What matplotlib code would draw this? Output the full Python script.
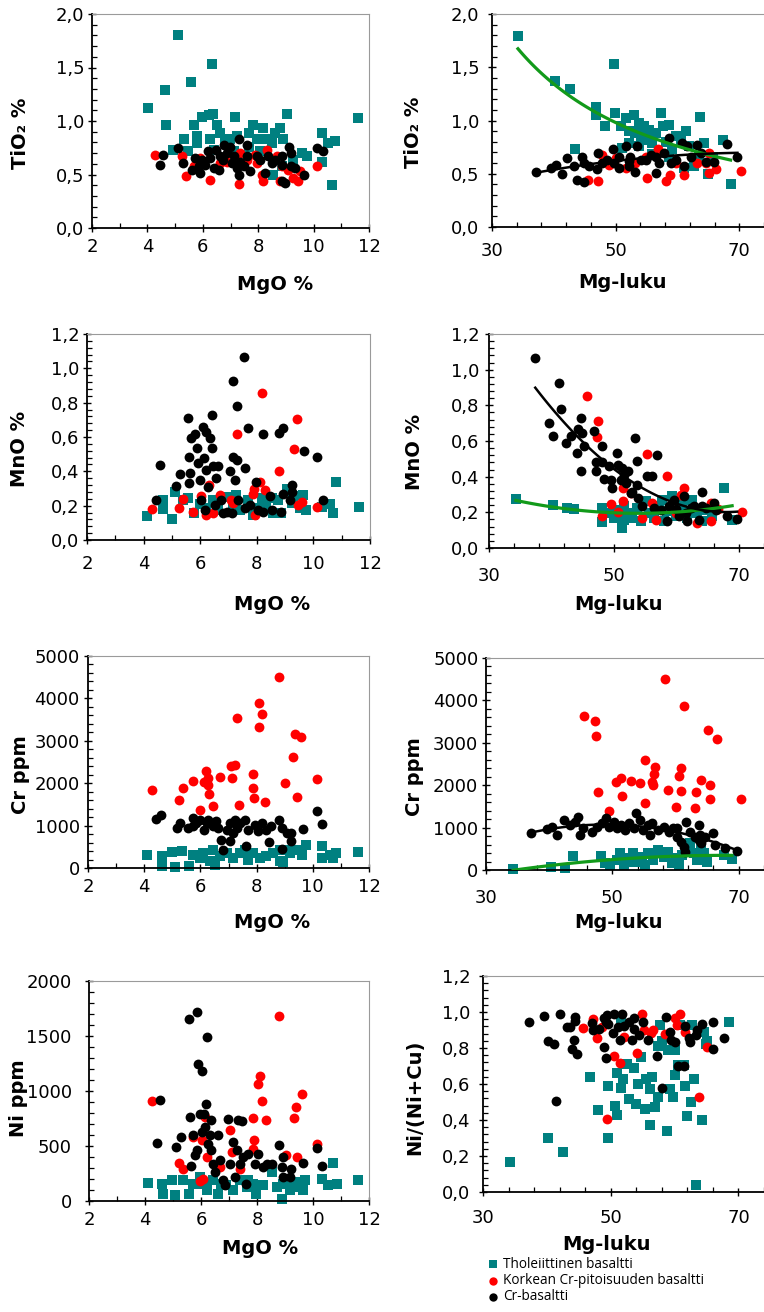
import numpy as np
import matplotlib
matplotlib.use('Agg')
import matplotlib.pyplot as plt
from matplotlib.ticker import FixedLocator, MultipleLocator, FuncFormatter

# --- TiO2 vs MgO ---
tio2_mgo_thol_x = [4.02, 4.62, 5.09, 5.58, 6.33, 4.66, 4.94, 5.33, 5.46, 5.67, 5.79, 5.79, 5.97, 6.24, 6.36, 6.27, 6.51, 6.63, 6.81, 6.99, 7.17, 7.23, 7.65, 7.81, 7.95, 8.19, 8.31, 8.49, 8.61, 8.79, 8.91, 9.03, 7.65, 8.07, 8.55, 9.27, 9.57, 9.75, 10.29, 10.29, 10.53, 10.77, 10.65, 11.62, 8.85, 7.11, 6.39]
tio2_mgo_thol_y = [1.12, 1.29, 1.80, 1.36, 1.53, 0.96, 0.73, 0.83, 0.72, 0.96, 0.86, 0.79, 1.04, 1.06, 1.07, 0.83, 0.96, 0.89, 0.83, 0.83, 1.04, 0.86, 0.89, 0.96, 0.83, 0.93, 0.83, 0.79, 0.89, 0.93, 0.83, 1.07, 0.76, 0.72, 0.50, 0.64, 0.70, 0.67, 0.89, 0.62, 0.79, 0.81, 0.40, 1.03, 0.58, 0.72, 0.73]
tio2_mgo_hcr_x = [4.26, 5.25, 5.39, 6.27, 6.63, 7.35, 7.32, 7.89, 7.95, 8.13, 8.19, 8.31, 8.79, 8.85, 9.27, 9.45, 9.51, 10.11, 6.87, 5.91, 7.59, 5.67, 8.67, 9.09]
tio2_mgo_hcr_y = [0.685, 0.67, 0.49, 0.45, 0.61, 0.70, 0.41, 0.685, 0.61, 0.50, 0.44, 0.73, 0.44, 0.58, 0.47, 0.44, 0.53, 0.58, 0.62, 0.655, 0.64, 0.58, 0.67, 0.545]
tio2_mgo_cr_x = [4.56, 4.46, 5.12, 5.28, 5.61, 5.73, 5.85, 5.97, 6.09, 6.17, 6.27, 6.39, 6.48, 6.63, 6.72, 6.75, 6.87, 6.99, 7.05, 7.11, 7.23, 7.29, 7.29, 7.47, 7.59, 7.59, 7.71, 7.95, 8.07, 8.25, 8.37, 8.49, 8.61, 8.85, 8.85, 8.85, 8.97, 9.12, 9.20, 9.20, 9.33, 9.65, 10.11, 10.33, 5.91, 6.57, 7.35]
tio2_mgo_cr_y = [0.685, 0.59, 0.75, 0.61, 0.545, 0.655, 0.575, 0.64, 0.59, 0.72, 0.655, 0.56, 0.73, 0.67, 0.64, 0.78, 0.70, 0.76, 0.61, 0.67, 0.56, 0.83, 0.50, 0.58, 0.67, 0.78, 0.53, 0.67, 0.64, 0.51, 0.67, 0.61, 0.64, 0.67, 0.59, 0.44, 0.42, 0.76, 0.70, 0.58, 0.56, 0.50, 0.75, 0.72, 0.51, 0.545, 0.62]

# --- TiO2 vs Mg-luku ---
tio2_mgl_thol_x = [34.2, 40.2, 42.6, 43.5, 46.8, 46.8, 48.3, 49.7, 49.9, 50.8, 51.1, 51.7, 52.2, 53.0, 53.2, 53.8, 54.1, 54.6, 54.9, 55.4, 55.9, 56.5, 57.3, 57.6, 58.1, 58.6, 59.1, 59.7, 60.5, 61.4, 61.9, 62.7, 63.5, 63.7, 64.3, 64.9, 65.7, 67.4, 68.6, 55.9, 53.8, 58.6, 61.1, 52.2]
tio2_mgl_thol_y = [1.79, 1.37, 1.30, 0.73, 1.13, 1.05, 0.95, 1.53, 1.07, 0.945, 0.74, 1.02, 0.90, 1.05, 0.88, 0.98, 0.85, 0.945, 0.82, 0.91, 0.79, 0.88, 1.07, 0.945, 0.80, 0.96, 0.73, 0.85, 0.82, 0.90, 0.76, 0.57, 0.66, 1.03, 0.79, 0.50, 0.66, 0.82, 0.40, 0.69, 0.76, 0.66, 0.55, 0.79]
tio2_mgl_hcr_x = [45.6, 47.2, 47.8, 55.1, 56.8, 58.1, 58.8, 61.1, 65.1, 66.3, 70.3, 51.6, 54.9, 63.2, 64.6, 59.7, 53.2, 50.0, 48.9, 65.1]
tio2_mgl_hcr_y = [0.445, 0.43, 0.68, 0.46, 0.73, 0.43, 0.49, 0.49, 0.695, 0.54, 0.53, 0.55, 0.66, 0.60, 0.60, 0.60, 0.60, 0.65, 0.585, 0.51]
tio2_mgl_cr_x = [37.1, 39.5, 40.3, 41.4, 42.2, 43.2, 43.8, 44.6, 44.9, 44.9, 45.7, 47.0, 47.2, 47.8, 48.6, 49.5, 49.7, 50.5, 50.5, 51.6, 52.1, 52.4, 53.1, 53.5, 54.1, 54.9, 55.7, 56.6, 57.0, 57.8, 58.6, 58.9, 59.7, 60.7, 61.1, 61.6, 62.2, 63.2, 63.8, 64.6, 65.9, 68.0, 69.7, 56.5, 52.2]
tio2_mgl_cr_y = [0.515, 0.55, 0.58, 0.50, 0.65, 0.57, 0.445, 0.66, 0.42, 0.60, 0.57, 0.54, 0.695, 0.60, 0.63, 0.73, 0.60, 0.66, 0.55, 0.76, 0.62, 0.66, 0.52, 0.76, 0.63, 0.63, 0.68, 0.51, 0.60, 0.695, 0.835, 0.60, 0.63, 0.79, 0.57, 0.76, 0.66, 0.77, 0.695, 0.61, 0.615, 0.78, 0.66, 0.66, 0.57]

# --- MnO vs MgO ---
mno_mgo_thol_x = [4.13, 4.67, 4.69, 5.02, 5.10, 5.57, 5.77, 5.99, 6.46, 6.63, 6.93, 7.26, 7.40, 7.70, 7.87, 8.17, 8.34, 8.58, 8.76, 8.87, 9.05, 9.23, 9.52, 9.64, 9.74, 10.29, 10.58, 10.70, 10.80, 11.62, 5.40, 6.22, 7.17, 8.05, 8.52, 9.29]
mno_mgo_thol_y = [0.14, 0.235, 0.18, 0.12, 0.28, 0.245, 0.155, 0.21, 0.235, 0.175, 0.25, 0.26, 0.175, 0.235, 0.145, 0.245, 0.195, 0.155, 0.235, 0.155, 0.295, 0.215, 0.185, 0.265, 0.175, 0.195, 0.21, 0.16, 0.34, 0.195, 0.235, 0.185, 0.21, 0.185, 0.245, 0.255]
mno_mgo_hcr_x = [4.31, 5.25, 5.40, 5.75, 6.04, 6.22, 6.32, 6.46, 6.69, 7.17, 7.31, 7.90, 7.93, 8.11, 8.20, 8.29, 8.79, 9.31, 9.41, 9.46, 9.58, 10.14, 7.87, 7.09]
mno_mgo_hcr_y = [0.18, 0.185, 0.24, 0.165, 0.255, 0.145, 0.32, 0.155, 0.26, 0.215, 0.62, 0.30, 0.145, 0.34, 0.855, 0.29, 0.40, 0.53, 0.705, 0.205, 0.22, 0.195, 0.27, 0.235]
mno_mgo_cr_x = [4.45, 4.57, 5.14, 5.28, 5.57, 5.63, 5.69, 5.61, 5.61, 5.81, 5.89, 5.93, 5.99, 6.04, 6.10, 6.13, 6.16, 6.22, 6.22, 6.28, 6.34, 6.40, 6.43, 6.46, 6.52, 6.55, 6.63, 6.75, 6.81, 7.05, 7.17, 7.17, 7.23, 7.29, 7.29, 7.34, 7.58, 7.58, 7.55, 7.70, 7.97, 8.05, 8.23, 8.23, 8.46, 8.52, 8.79, 8.91, 8.87, 8.91, 9.23, 9.23, 9.17, 9.67, 10.14, 10.33, 6.93, 7.11, 7.76]
mno_mgo_cr_y = [0.235, 0.435, 0.315, 0.385, 0.71, 0.39, 0.595, 0.485, 0.33, 0.62, 0.535, 0.45, 0.35, 0.235, 0.66, 0.475, 0.175, 0.41, 0.63, 0.31, 0.595, 0.535, 0.73, 0.43, 0.205, 0.36, 0.43, 0.235, 0.155, 0.40, 0.485, 0.925, 0.35, 0.465, 0.78, 0.235, 0.42, 0.185, 1.065, 0.655, 0.335, 0.175, 0.615, 0.165, 0.255, 0.175, 0.625, 0.65, 0.165, 0.27, 0.32, 0.28, 0.235, 0.52, 0.485, 0.235, 0.165, 0.155, 0.205]

# --- MnO vs Mg-luku ---
mno_mgl_thol_x = [34.3, 40.2, 42.5, 43.6, 48.0, 48.1, 49.5, 50.0, 50.5, 51.2, 51.6, 52.1, 52.9, 53.7, 54.3, 55.1, 55.6, 56.4, 57.2, 58.0, 58.5, 59.3, 59.9, 60.9, 61.7, 62.5, 63.3, 64.1, 64.9, 65.7, 67.6, 68.9, 51.6, 57.7, 61.2]
mno_mgl_thol_y = [0.277, 0.243, 0.224, 0.22, 0.224, 0.144, 0.196, 0.168, 0.215, 0.112, 0.159, 0.196, 0.168, 0.224, 0.15, 0.262, 0.196, 0.168, 0.234, 0.15, 0.206, 0.29, 0.178, 0.243, 0.168, 0.271, 0.196, 0.15, 0.215, 0.178, 0.336, 0.159, 0.234, 0.271, 0.196]
mno_mgl_hcr_x = [45.7, 47.5, 47.3, 48.0, 49.5, 50.7, 51.4, 51.5, 54.5, 55.2, 56.7, 58.4, 59.9, 61.2, 60.7, 63.3, 65.5, 65.5, 66.7, 70.5, 56.1, 52.7]
mno_mgl_hcr_y = [0.854, 0.71, 0.622, 0.178, 0.249, 0.20, 0.262, 0.336, 0.168, 0.529, 0.159, 0.402, 0.196, 0.336, 0.299, 0.14, 0.15, 0.252, 0.22, 0.20, 0.252, 0.308]
mno_mgl_cr_x = [37.4, 39.6, 40.2, 41.2, 41.5, 42.3, 43.1, 44.1, 44.3, 44.7, 44.7, 44.9, 45.2, 46.8, 47.1, 47.1, 48.0, 48.0, 48.4, 49.2, 49.5, 49.7, 50.5, 50.7, 51.1, 51.6, 51.9, 52.3, 52.7, 52.9, 53.4, 53.7, 53.7, 53.9, 54.5, 55.3, 56.0, 56.8, 56.4, 57.5, 58.5, 58.8, 59.6, 60.4, 61.2, 61.5, 61.7, 62.3, 63.6, 64.0, 64.0, 64.7, 66.0, 66.3, 68.1, 69.7, 62.8, 59.9, 51.3]
mno_mgl_cr_y = [1.065, 0.70, 0.626, 0.925, 0.78, 0.589, 0.626, 0.533, 0.667, 0.729, 0.434, 0.645, 0.57, 0.654, 0.48, 0.43, 0.574, 0.48, 0.387, 0.458, 0.383, 0.336, 0.533, 0.467, 0.383, 0.411, 0.364, 0.43, 0.308, 0.312, 0.617, 0.486, 0.355, 0.28, 0.234, 0.402, 0.402, 0.523, 0.224, 0.215, 0.15, 0.234, 0.271, 0.178, 0.29, 0.196, 0.15, 0.224, 0.159, 0.312, 0.234, 0.224, 0.252, 0.215, 0.178, 0.164, 0.234, 0.219, 0.449]

# --- Cr vs MgO ---
cr_mgo_thol_x = [4.11, 4.65, 4.65, 5.00, 5.09, 5.36, 5.60, 5.74, 6.10, 6.45, 6.51, 6.69, 6.93, 7.17, 7.40, 7.70, 7.88, 8.12, 8.35, 8.59, 8.83, 8.83, 8.95, 9.19, 9.42, 9.60, 9.76, 10.31, 10.31, 10.61, 10.73, 10.82, 11.62, 5.98, 6.34, 7.58, 9.07]
cr_mgo_thol_y = [314, 290, 55, 369, 24, 392, 55, 314, 353, 432, 78, 275, 353, 235, 353, 196, 353, 235, 275, 353, 432, 157, 133, 353, 432, 314, 549, 235, 510, 314, 235, 353, 369, 235, 157, 432, 432]
cr_mgo_hcr_x = [4.29, 5.24, 5.38, 5.74, 5.98, 6.12, 6.19, 6.28, 6.28, 6.31, 6.45, 6.69, 7.08, 7.12, 7.23, 7.32, 7.38, 7.88, 7.88, 7.90, 8.09, 8.07, 8.19, 8.31, 8.78, 9.02, 9.30, 9.36, 9.57, 9.42, 10.14]
cr_mgo_hcr_y = [1845, 1609, 1884, 2041, 1374, 2017, 2276, 2119, 1962, 1750, 1452, 2158, 2394, 2119, 2433, 3532, 1491, 2221, 1884, 1648, 3885, 3320, 3634, 1546, 4513, 2002, 2614, 3163, 3100, 1672, 2096]
cr_mgo_cr_x = [4.43, 4.59, 5.15, 5.27, 5.56, 5.74, 5.86, 5.98, 6.12, 6.22, 6.28, 6.45, 6.55, 6.63, 6.75, 6.81, 6.93, 7.05, 7.17, 7.23, 7.29, 7.40, 7.58, 7.62, 7.70, 7.94, 8.06, 8.18, 8.35, 8.45, 8.53, 8.81, 8.89, 8.92, 9.07, 9.21, 9.24, 9.66, 10.14, 10.33, 7.05, 5.74]
cr_mgo_cr_y = [1154, 1256, 942, 1060, 942, 1177, 1060, 1138, 903, 1060, 1138, 981, 1099, 942, 667, 432, 903, 1060, 824, 1138, 942, 1060, 1138, 510, 903, 1020, 863, 1060, 903, 604, 981, 1122, 447, 942, 824, 628, 824, 918, 1334, 1044, 628, 981]

# --- Cr vs Mg-luku ---
cr_mgl_thol_x = [34.3, 40.3, 42.5, 43.7, 48.2, 48.8, 49.7, 50.7, 51.2, 51.8, 52.5, 53.2, 53.9, 54.7, 55.2, 55.7, 56.5, 57.3, 58.1, 58.8, 59.4, 60.0, 60.5, 61.0, 61.8, 62.3, 62.9, 63.4, 64.1, 64.5, 65.0, 67.6, 68.9, 53.4, 56.8, 64.2]
cr_mgl_thol_y = [20, 78, 39, 330, 330, 157, 118, 235, 392, 118, 275, 392, 196, 314, 118, 392, 235, 471, 314, 432, 157, 275, 118, 353, 471, 628, 392, 235, 549, 392, 196, 353, 251, 196, 392, 235]
cr_mgl_hcr_x = [45.5, 47.3, 47.4, 47.8, 49.4, 50.6, 51.4, 51.6, 53.0, 54.4, 55.2, 55.1, 56.8, 56.6, 56.3, 56.5, 58.4, 58.8, 60.0, 60.5, 60.9, 60.9, 61.3, 63.3, 63.1, 64.0, 65.1, 65.5, 65.5, 66.6, 70.4]
cr_mgl_hcr_y = [3634, 3516, 3163, 1845, 1397, 2080, 2159, 1750, 2104, 2041, 1586, 2606, 2433, 2261, 2080, 2002, 4505, 1884, 1491, 2213, 2410, 1868, 3862, 1845, 1452, 2119, 3297, 1994, 1664, 3093, 1664]
cr_mgl_cr_x = [37.2, 39.6, 40.4, 41.2, 42.3, 43.3, 44.1, 44.5, 44.9, 45.4, 46.8, 47.5, 48.3, 49.0, 49.4, 50.2, 50.7, 51.4, 52.0, 52.6, 53.4, 53.7, 54.4, 54.9, 55.7, 56.0, 56.3, 57.3, 58.1, 58.9, 59.6, 60.2, 60.8, 61.3, 61.5, 61.7, 62.3, 63.0, 63.7, 63.9, 64.1, 64.7, 66.0, 66.2, 67.9, 69.7, 63.7, 60.2]
cr_mgl_cr_y = [863, 958, 1005, 824, 1177, 1060, 1138, 1256, 824, 981, 903, 1020, 1099, 1217, 1020, 1138, 981, 1060, 942, 1099, 981, 1334, 1177, 942, 1060, 824, 1115, 942, 1020, 903, 981, 981, 667, 549, 432, 1138, 903, 785, 1060, 824, 628, 785, 863, 589, 510, 455, 706, 785]

# --- Ni vs MgO ---
ni_mgo_thol_x = [4.09, 4.62, 4.65, 4.98, 5.06, 5.36, 5.58, 5.72, 5.96, 6.20, 6.43, 6.61, 6.91, 7.15, 7.39, 7.63, 7.86, 7.98, 8.22, 8.52, 8.70, 8.88, 8.94, 9.18, 9.41, 9.63, 9.71, 10.31, 10.55, 10.70, 10.84, 11.62, 6.08, 6.73, 7.69, 9.29]
ni_mgo_thol_y = [164, 158, 67, 188, 52, 188, 61, 158, 219, 97, 188, 67, 143, 97, 188, 127, 158, 67, 143, 264, 127, 21, 158, 97, 173, 97, 188, 203, 143, 346, 158, 194, 158, 158, 188, 127]
ni_mgo_hcr_x = [4.26, 5.22, 5.36, 5.72, 5.96, 6.08, 6.05, 6.14, 6.20, 6.67, 7.03, 7.09, 7.39, 7.86, 7.89, 7.86, 8.04, 8.10, 8.19, 8.31, 8.77, 9.03, 9.32, 9.39, 9.42, 9.59, 10.15]
ni_mgo_hcr_y = [907, 346, 294, 583, 182, 203, 552, 765, 400, 310, 643, 446, 294, 756, 552, 476, 1068, 1135, 910, 734, 1681, 416, 756, 856, 400, 977, 522]
ni_mgo_cr_x = [4.43, 4.55, 5.12, 5.28, 5.58, 5.84, 5.60, 5.64, 5.72, 5.78, 5.86, 5.91, 6.02, 5.96, 6.02, 6.10, 6.17, 6.22, 6.14, 6.25, 6.31, 6.37, 6.37, 6.43, 6.49, 6.61, 6.67, 6.79, 6.85, 6.97, 7.03, 7.15, 7.21, 7.29, 7.33, 7.39, 7.51, 7.48, 7.60, 7.69, 7.92, 8.03, 8.22, 8.34, 8.52, 8.79, 8.88, 8.92, 8.94, 9.18, 9.23, 9.65, 10.13, 10.31]
ni_mgo_cr_y = [528, 917, 492, 583, 1651, 1721, 765, 316, 598, 416, 461, 1250, 1184, 795, 628, 795, 886, 1487, 674, 522, 598, 734, 461, 340, 264, 598, 370, 188, 143, 750, 340, 537, 218, 461, 734, 340, 400, 728, 158, 431, 340, 431, 310, 340, 340, 507, 310, 400, 218, 218, 294, 349, 486, 316]

# --- Ni/(Ni+Cu) vs Mg-luku ---
nicu_mgl_thol_x = [34.2, 40.2, 42.6, 46.7, 48.0, 49.5, 49.6, 50.6, 51.0, 51.0, 51.6, 51.9, 52.5, 52.9, 53.6, 54.0, 54.2, 54.8, 55.3, 55.6, 56.1, 56.1, 56.4, 56.9, 57.4, 57.7, 57.4, 58.0, 58.8, 59.0, 59.3, 59.8, 60.1, 60.1, 60.5, 60.9, 61.4, 61.7, 62.0, 62.5, 62.7, 63.0, 63.3, 64.3, 64.6, 65.1, 64.9, 68.5, 51.6]
nicu_mgl_thol_y = [0.166, 0.30, 0.22, 0.64, 0.456, 0.30, 0.59, 0.48, 0.43, 0.66, 0.58, 0.63, 0.71, 0.515, 0.69, 0.49, 0.60, 0.75, 0.46, 0.63, 0.57, 0.37, 0.64, 0.47, 0.53, 0.93, 0.81, 0.84, 0.34, 0.79, 0.57, 0.53, 0.79, 0.65, 0.705, 0.93, 0.705, 0.59, 0.42, 0.50, 0.93, 0.63, 0.04, 0.40, 0.89, 0.84, 0.82, 0.945, 0.96]
nicu_mgl_hcr_x = [45.6, 47.2, 47.8, 49.4, 50.5, 51.5, 54.1, 54.9, 55.2, 56.3, 56.6, 58.5, 60.0, 60.3, 60.9, 61.7, 63.8, 65.1, 48.7, 52.1]
nicu_mgl_hcr_y = [0.912, 0.96, 0.853, 0.404, 0.755, 0.714, 0.773, 0.991, 0.899, 0.884, 0.899, 0.88, 0.967, 0.927, 0.991, 0.89, 0.53, 0.803, 0.917, 0.862]
nicu_mgl_cr_x = [37.2, 39.5, 40.1, 41.1, 41.4, 42.1, 43.1, 43.9, 44.2, 44.4, 44.7, 44.4, 43.6, 47.1, 47.3, 48.1, 48.9, 49.0, 49.2, 49.4, 49.6, 50.3, 50.5, 51.1, 51.7, 51.5, 52.1, 52.9, 53.6, 53.6, 53.4, 54.4, 55.0, 55.8, 57.3, 58.1, 58.6, 59.3, 59.4, 60.1, 60.6, 61.4, 61.7, 62.2, 62.4, 63.3, 63.5, 64.3, 66.0, 66.0, 67.8, 49.2]
nicu_mgl_cr_y = [0.945, 0.977, 0.84, 0.82, 0.506, 0.988, 0.917, 0.792, 0.847, 0.973, 0.766, 0.951, 0.914, 0.94, 0.899, 0.908, 0.964, 0.807, 0.742, 0.982, 0.932, 0.884, 0.988, 0.917, 0.991, 0.847, 0.921, 0.945, 0.903, 0.964, 0.844, 0.871, 0.945, 0.844, 0.755, 0.576, 0.973, 0.89, 0.844, 0.834, 0.70, 0.70, 0.921, 0.858, 0.834, 0.871, 0.899, 0.936, 0.945, 0.792, 0.853, 0.945]

series_names = ['Tholeiittinen basaltti', 'Korkean Cr-pitoisuuden basaltti', 'Cr-basaltti']

TEAL = '#008080'
RED = '#ff0000'
BLACK = '#000000'
GREEN = '#129a1a'
W, H = 764, 1312

plt.rcParams['font.family'] = ['DejaVu Sans']
fig = plt.figure(figsize=(W / 100, H / 100), dpi=100)


def comma_fmt(dec):
    return FuncFormatter(lambda v, p: f'{v:.{dec}f}'.replace('.', ','))


def make_axes(box, right_col, ylim, ymaj, ymin, ydec, xlabel, ylabel, xlab, ylab, ypad, xpad):
    l, t, r, b = box
    ax = fig.add_axes([l / W, 1 - b / H, (r - l) / W, (b - t) / H])
    if right_col:
        ax.set_xlim(30, 74)
        ax.xaxis.set_major_locator(FixedLocator([30, 50, 70]))
        ax.xaxis.set_minor_locator(FixedLocator(np.arange(30, 75, 4)))
        ax.spines['right'].set_visible(False)
    else:
        ax.set_xlim(2, 12)
        ax.xaxis.set_major_locator(MultipleLocator(2))
        ax.xaxis.set_minor_locator(MultipleLocator(1))
        ax.spines['right'].set_color('#9a9a9a')
    ax.xaxis.set_major_formatter(comma_fmt(0))
    ax.set_ylim(*ylim)
    ax.yaxis.set_major_locator(MultipleLocator(ymaj))
    ax.yaxis.set_minor_locator(MultipleLocator(ymin))
    ax.yaxis.set_major_formatter(comma_fmt(ydec))
    ax.spines['top'].set_color('#9a9a9a')
    for s in ['left', 'bottom']:
        ax.spines[s].set_linewidth(1.3)
    ax.tick_params(which='major', direction='inout', length=6, width=1, labelsize=13)
    ax.tick_params(which='minor', direction='in', length=3.5, width=0.9)
    ax.tick_params(axis='y', which='major', pad=ypad)
    ax.tick_params(axis='x', which='major', pad=xpad)
    ax.set_xlabel(xlabel, fontsize=14, fontweight='bold')
    ax.set_ylabel(ylabel, fontsize=14, fontweight='bold')
    ax.xaxis.label.set_va('center')
    ax.yaxis.label.set_va('center')
    ax.xaxis.set_label_coords((xlab[0] - l) / (r - l), (b - xlab[1]) / (b - t))
    ax.yaxis.set_label_coords((ylab[0] - l) / (r - l), (b - ylab[1]) / (b - t))
    return ax


def points(ax, tx, ty, rx, ry, bx, by):
    h1 = ax.scatter(tx, ty, marker='s', s=44, color=TEAL, linewidths=0, zorder=2, clip_on=False)
    h2 = ax.scatter(rx, ry, marker='o', s=50, color=RED, linewidths=0, zorder=3, clip_on=False)
    h3 = ax.scatter(bx, by, marker='o', s=50, color=BLACK, linewidths=0, zorder=4, clip_on=False)
    return h1, h2, h3


def trend(ax, x, y, color, lw):
    coef = np.polyfit(x, y, 2)
    xs = np.linspace(min(x), max(x), 100)
    ax.plot(xs, np.polyval(coef, xs), color=color, lw=lw, zorder=5)


def power_trend(ax, x, y, color, lw):
    b, a = np.polyfit(np.log(x), np.log(y), 1)
    xs = np.linspace(min(x), max(x), 100)
    ax.plot(xs, np.exp(a) * xs ** b, color=color, lw=lw, zorder=5)


# row 1
ax = make_axes((92, 14, 369, 228), False, (0, 2.0), 0.5, 0.1, 1, 'MgO %', 'TiO₂ %', (275, 285), (20, 133), 2.5, 4)
points(ax, tio2_mgo_thol_x, tio2_mgo_thol_y, tio2_mgo_hcr_x, tio2_mgo_hcr_y, tio2_mgo_cr_x, tio2_mgo_cr_y)

ax = make_axes((492, 14, 764, 227), True, (0, 2.0), 0.5, 0.1, 1, 'Mg-luku', 'TiO₂ %', (622, 283), (414, 132), 6, 8)
points(ax, tio2_mgl_thol_x, tio2_mgl_thol_y, tio2_mgl_hcr_x, tio2_mgl_hcr_y, tio2_mgl_cr_x, tio2_mgl_cr_y)
power_trend(ax, tio2_mgl_thol_x, tio2_mgl_thol_y, GREEN, 2.3)
trend(ax, tio2_mgl_cr_x, tio2_mgl_cr_y, BLACK, 1.8)

# row 2
ax = make_axes((87, 334, 370, 540), False, (0, 1.2), 0.2, 0.04, 1, 'MgO %', 'MnO %', (272, 605), (20, 449), 2.5, 8)
points(ax, mno_mgo_thol_x, mno_mgo_thol_y, mno_mgo_hcr_x, mno_mgo_hcr_y, mno_mgo_cr_x, mno_mgo_cr_y)

ax = make_axes((489, 334, 764, 548), True, (0, 1.2), 0.2, 0.04, 1, 'Mg-luku', 'MnO %', (619, 605), (414, 452), 4, 11)
points(ax, mno_mgl_thol_x, mno_mgl_thol_y, mno_mgl_hcr_x, mno_mgl_hcr_y, mno_mgl_cr_x, mno_mgl_cr_y)
trend(ax, mno_mgl_thol_x, mno_mgl_thol_y, GREEN, 2.3)
trend(ax, mno_mgl_cr_x, mno_mgl_cr_y, BLACK, 1.8)

# row 3
ax = make_axes((88, 656, 369, 868), False, (0, 5000), 1000, 200, 0, 'MgO %', 'Cr ppm', (272, 923), (20, 775), 3, 4.5)
points(ax, cr_mgo_thol_x, cr_mgo_thol_y, cr_mgo_hcr_x, cr_mgo_hcr_y, cr_mgo_cr_x, cr_mgo_cr_y)

ax = make_axes((486, 658, 764, 870), True, (0, 5000), 1000, 200, 0, 'Mg-luku', 'Cr ppm', (619, 923), (415, 777), 2.5, 11)
points(ax, cr_mgl_thol_x, cr_mgl_thol_y, cr_mgl_hcr_x, cr_mgl_hcr_y, cr_mgl_cr_x, cr_mgl_cr_y)
trend(ax, cr_mgl_thol_x, cr_mgl_thol_y, GREEN, 2.3)
trend(ax, cr_mgl_cr_x, cr_mgl_cr_y, BLACK, 1.8)

# row 4
ax = make_axes((89, 981, 369, 1201), False, (0, 2000), 500, 100, 0, 'MgO %', 'Ni ppm', (260, 1248), (19, 1098), 9.5, 4)
points(ax, ni_mgo_thol_x, ni_mgo_thol_y, ni_mgo_hcr_x, ni_mgo_hcr_y, ni_mgo_cr_x, ni_mgo_cr_y)

ax = make_axes((483, 976, 764, 1192), True, (0, 1.2), 0.2, 0.04, 1, 'Mg-luku', 'Ni/(Ni+Cu)', (607, 1245), (415, 1097), 6, 9)
handles = points(ax, nicu_mgl_thol_x, nicu_mgl_thol_y, nicu_mgl_hcr_x, nicu_mgl_hcr_y, nicu_mgl_cr_x, nicu_mgl_cr_y)

fig.legend(handles, series_names, loc='upper left', bbox_to_anchor=(488 / W, 1 - 1257 / H),
           frameon=False, prop={'family': 'Open Sans', 'size': 9.8}, markerscale=0.85,
           handlelength=0.8, handletextpad=0.3, labelspacing=0.08, borderpad=0, borderaxespad=0)

fig.savefig('out.png', dpi=100)
